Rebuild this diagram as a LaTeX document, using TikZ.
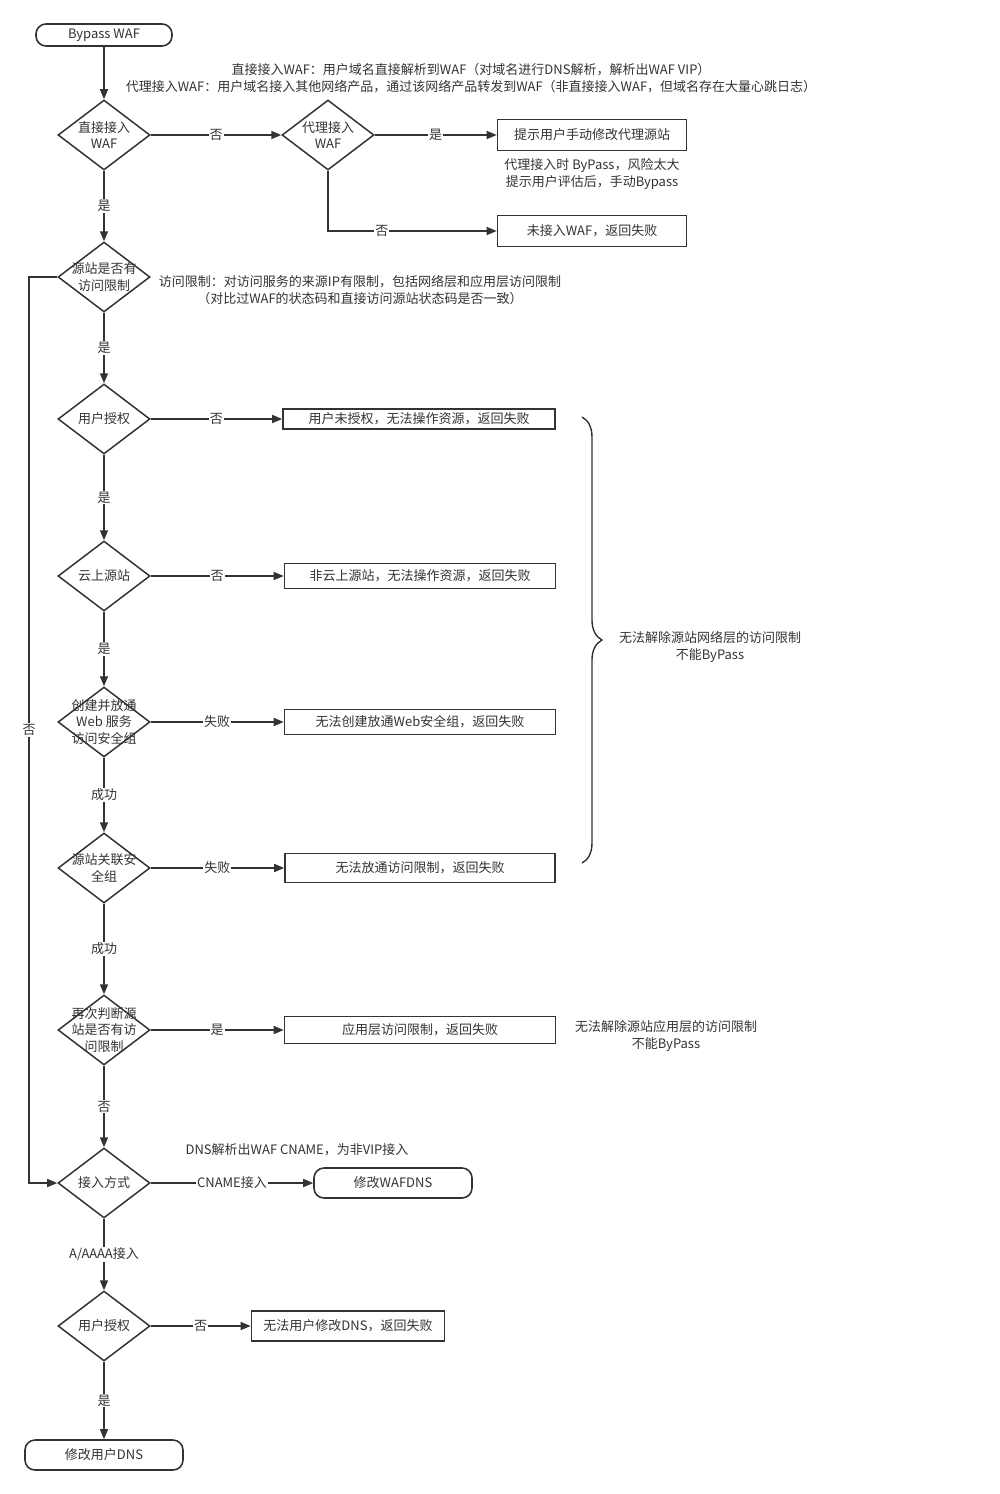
\documentclass[tikz,border=0pt]{standalone}
\usepackage{fontspec}
\setmainfont{Noto Sans CJK SC}
\usepackage{tikz}
\usetikzlibrary{arrows.meta}
\usetikzlibrary{shapes.geometric}
\usetikzlibrary{decorations.pathreplacing}

\definecolor{ink}{HTML}{333333}

\tikzset{
	decision/.style={diamond, draw, line width=1.5pt, minimum width=92pt, minimum height=70pt, inner sep=0pt},
	term/.style={draw, rounded corners=10pt, line width=1.6pt, minimum height=30pt},
	box/.style={draw, line width=1.6pt},
	flow/.style={line width=1.5pt, -{Triangle[length=10pt,width=8pt]}},
	lab/.style={fill=white, inner sep=1pt},
	note/.style={align=center}
}

\begin{document}
\begin{tikzpicture}[x=1pt, y=-1pt, color=ink, font=\fontsize{13}{16.5}\selectfont]
	\useasboundingbox (0,0) rectangle (999,1494);

	% main column
	\node[term, minimum width=136pt, minimum height=22pt] (start) at (104,35) {Bypass WAF};
	\node[decision, label={[align=center]center:直接接入\\WAF}] (direct) at (104,135) {};
	\node[decision, label={[align=center]center:代理接入\\WAF}] (proxy) at (328,135) {};
	\node[decision, label={[align=center]center:源站是否有\\访问限制}] (limit) at (104,277) {};
	\node[decision, label={center:用户授权}] (auth) at (104,419) {};
	\node[decision, label={center:云上源站}] (cloud) at (104,576) {};
	\node[decision, label={[align=center]center:创建并放通\\Web 服务\\访问安全组}] (mksg) at (104,722) {};
	\node[decision, label={[align=center]center:源站关联安\\全组}] (bindsg) at (104,868) {};
	\node[decision, label={[align=center]center:再次判断源\\站是否有访\\问限制}] (again) at (104,1030) {};
	\node[decision, label={center:接入方式}] (access) at (104,1183) {};
	\node[decision, label={center:用户授权}] (auth2) at (104,1326) {};
	\node[term, minimum width=158pt] (done) at (104,1455) {修改用户DNS};

	% results
	\node[box, minimum width=189pt, minimum height=31pt] (hint) at (592,135) {提示用户手动修改代理源站};
	\node[box, minimum width=189pt, minimum height=31pt] (nowaf) at (592,231) {未接入WAF，返回失败};
	\node[box, minimum width=272pt, minimum height=20pt] (noauth) at (419,419) {用户未授权，无法操作资源，返回失败};
	\node[box, minimum width=271pt, minimum height=25pt] (nocloud) at (420,576) {非云上源站，无法操作资源，返回失败};
	\node[box, minimum width=271pt, minimum height=25pt] (nomksg) at (420,722) {无法创建放通Web安全组，返回失败};
	\node[box, minimum width=270pt, minimum height=29pt] (nobind) at (420,868) {无法放通访问限制，返回失败};
	\node[box, minimum width=271pt, minimum height=27pt] (applim) at (420,1030) {应用层访问限制，返回失败};
	\node[term, minimum width=158pt] (wafdns) at (393,1183) {修改WAFDNS};
	\node[box, minimum width=193pt, minimum height=30pt] (nodns) at (348,1326) {无法用户修改DNS，返回失败};

	% notes
	\node[note] (n1) at (471,78) {直接接入WAF：用户域名直接解析到WAF（对域名进行DNS解析，解析出WAF VIP）\\代理接入WAF：用户域名接入其他网络产品，通过该网络产品转发到WAF（非直接接入WAF，但域名存在大量心跳日志）};
	\node[note] (n2) at (592,174) {代理接入时 ByPass，风险太大\\提示用户评估后，手动Bypass};
	\node[note] (n3) at (360,290) {访问限制：对访问服务的来源IP有限制，包括网络层和应用层访问限制\\（对比过WAF的状态码和直接访问源站状态码是否一致）};
	\node[note] (n4) at (710,647) {无法解除源站网络层的访问限制\\不能ByPass};
	\node[note] (n5) at (666,1036) {无法解除源站应用层的访问限制\\不能ByPass};
	\node[note] (n6) at (297,1150) {DNS解析出WAF CNAME，为非VIP接入};

	\coordinate (lt) at (29,277);
	\coordinate (lb) at (29,1183);

	% connectors
	\draw[flow] (start) -- (direct);
	\draw[flow] (direct) -- node[lab] {否} (proxy);
	\draw[flow] (proxy) -- node[lab] {是} (hint);
	\draw[flow] (proxy) |- node[lab, pos=0.66] {否} (nowaf);
	\draw[flow] (direct) -- node[lab] {是} (limit);
	\draw[flow] (limit) -- node[lab] {是} (auth);
	\draw[flow] (limit) -- (lt) -- node[lab] {否} (lb) -- (access);
	\draw[flow] (auth) -- node[lab] {否} (noauth);
	\draw[flow] (auth) -- node[lab] {是} (cloud);
	\draw[flow] (cloud) -- node[lab] {否} (nocloud);
	\draw[flow] (cloud) -- node[lab] {是} (mksg);
	\draw[flow] (mksg) -- node[lab] {失败} (nomksg);
	\draw[flow] (mksg) -- node[lab] {成功} (bindsg);
	\draw[flow] (bindsg) -- node[lab] {失败} (nobind);
	\draw[flow] (bindsg) -- node[lab] {成功} (again);
	\draw[flow] (again) -- node[lab] {是} (applim);
	\draw[flow] (again) -- node[lab] {否} (access);
	\draw[flow] (access) -- node[lab] {CNAME接入} (wafdns);
	\draw[flow] (access) -- node[lab] {A/AAAA接入} (auth2);
	\draw[flow] (auth2) -- node[lab] {否} (nodns);
	\draw[flow] (auth2) -- node[lab] {是} (done);

	% brace
	\draw[line width=1.4pt, decorate, decoration={brace, amplitude=20pt}] (582,417) -- (582,863);
\end{tikzpicture}
\end{document}
